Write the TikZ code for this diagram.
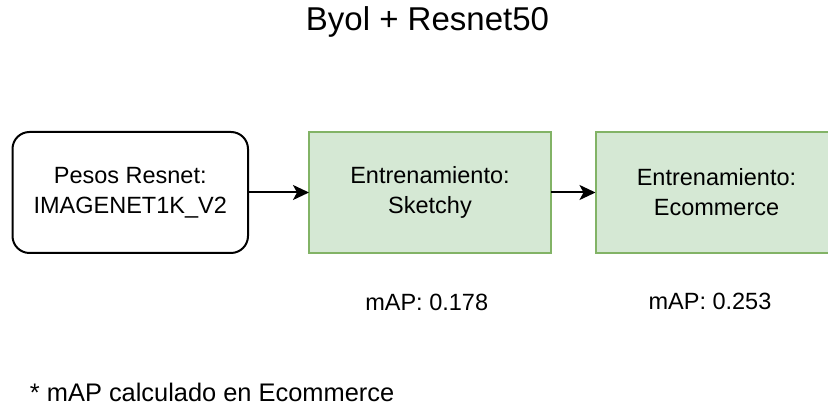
\documentclass[tikz,border=0pt]{standalone}
\usepackage{fontspec}
\setmainfont{Liberation Sans}
\usetikzlibrary{arrows.meta}
\definecolor{boxgreen}{HTML}{D5E8D4}
\definecolor{boxgreenline}{HTML}{82B366}
\tikzset{
  every node/.style={inner sep=0pt, outer sep=0pt},
  basebox/.style={minimum height=121pt, align=center,
    font=\fontsize{23.5pt}{30pt}\selectfont},
  weightbox/.style={basebox, draw=black, line width=2pt, rounded corners=17pt,
    minimum width=235.5pt, fill=white},
  trainbox/.style={basebox, draw=boxgreenline, fill=boxgreen, line width=2pt,
    minimum width=242pt},
  flow/.style={draw=black, line width=2pt,
    -{Stealth[length=16pt, width=15pt, inset=4pt]}},
  score/.style={anchor=base, font=\fontsize{23.5pt}{28pt}\selectfont},
}
\begin{document}
\begin{tikzpicture}[x=1pt, y=1pt]
  \clip (0,0) rectangle (828,417);
  \fill[white] (0,0) rectangle (828,417);

  % title
  \node[anchor=base, font=\fontsize{33pt}{38pt}\selectfont] (title) at (427.5,386) {Byol + Resnet50};

  % pipeline
  \node[weightbox] (pesos) at (130.25,224.5) {Pesos Resnet:\\IMAGENET1K\_V2};
  \node[trainbox] (sketchy) at (430,224.5) {Entrenamiento:\\Sketchy};
  \node[trainbox] (ecom) at (716.5,224.5) {Entrenamiento:\\Ecommerce};

  \draw[flow] (pesos) -- (sketchy);
  \draw[flow] (sketchy) -- (ecom);

  % scores
  \node[score] (map1) at (426.7,106) {mAP: 0.178};
  \node[score] (map2) at (710,107.5) {mAP: 0.253};

  % footnote
  \node[anchor=base west, font=\fontsize{25.4pt}{30pt}\selectfont] (note) at (30,15.3) {* mAP calculado en Ecommerce};
\end{tikzpicture}
\end{document}
